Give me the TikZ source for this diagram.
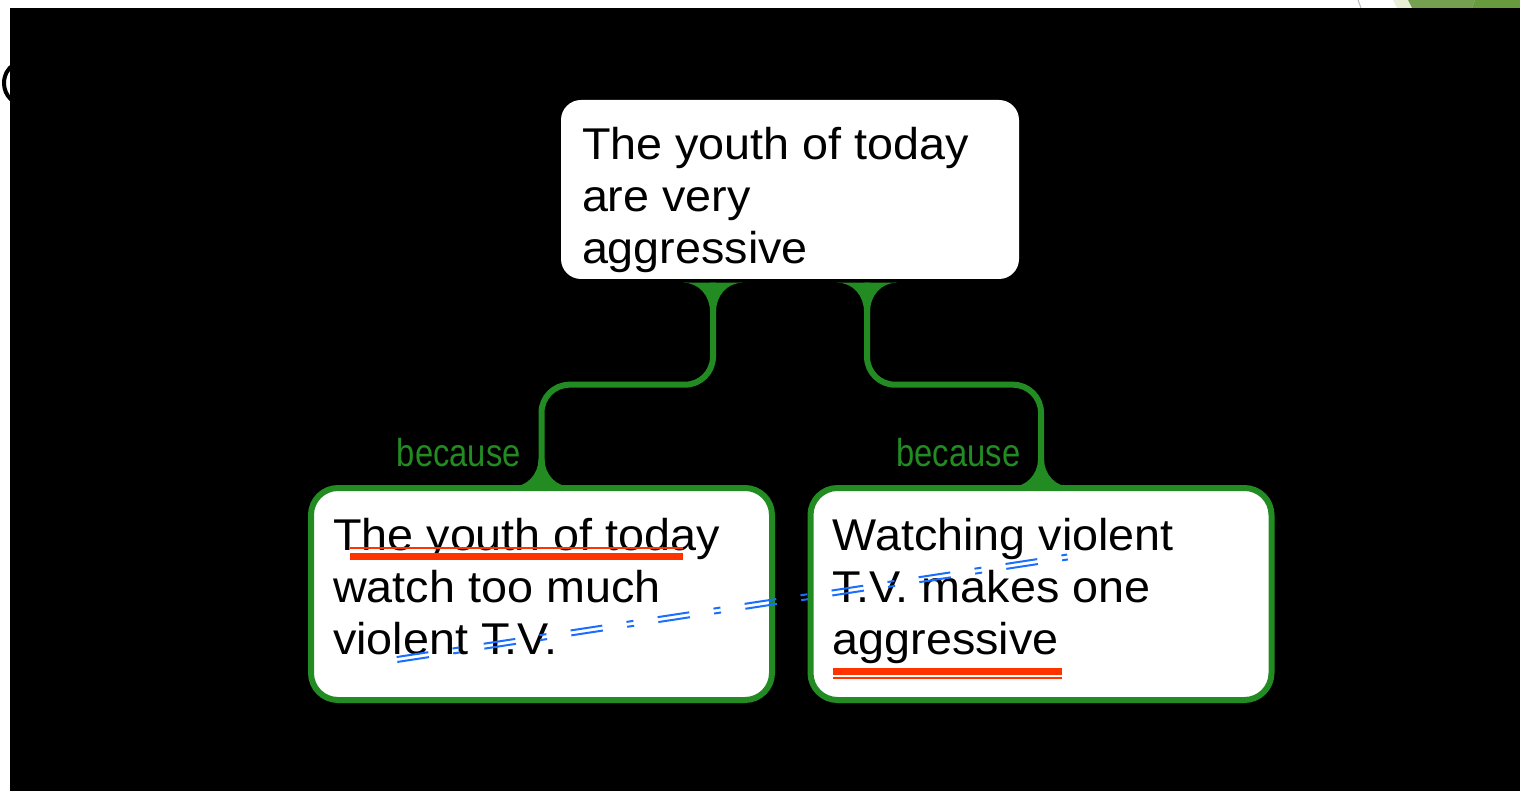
\documentclass[tikz,border=0pt]{standalone}
\usepackage{fontspec}
\usetikzlibrary{calc}
\newfontfamily\boxfont[FakeStretch=1.05]{Liberation Sans}
\newfontfamily\becfont[FakeStretch=0.84]{Liberation Sans}
\definecolor{argueGreen}{RGB}{34,139,34}
\definecolor{markRed}{RGB}{255,51,0}
\definecolor{linkBlue}{RGB}{25,110,255}
\definecolor{leafLight}{RGB}{232,240,214}
\definecolor{leafMid}{RGB}{116,160,80}
\definecolor{leafDark}{RGB}{104,154,62}
\begin{document}
\begin{tikzpicture}[x=1pt,y=-1pt,
  claim/.style={fill=white, rounded corners=20pt, inner sep=0pt,
    minimum width=458pt, minimum height=179pt},
  reason/.style={draw=argueGreen, line width=6pt, fill=white, rounded corners=27pt,
    inner sep=0pt, minimum width=461pt, minimum height=212pt},
  textline/.style={anchor=base west, inner sep=0pt, text=black,
    font=\boxfont\fontsize{44.5}{52}\selectfont},
  because/.style={anchor=base east, inner sep=0pt, text=argueGreen,
    font=\becfont\fontsize{39}{42}\selectfont},
  link/.style={draw=argueGreen, line width=6pt, rounded corners=28pt},
  flaretop/.pic={\fill[argueGreen] (-30,0) .. controls (-14,0) and (-3,13) .. (-3,29)
      -- (3,29) .. controls (3,13) and (14,0) .. (30,0) -- cycle;},
  flarebottom/.pic={\fill[argueGreen] (-31,0) .. controls (-14,0) and (-3,-13) .. (-3,-28)
      -- (3,-28) .. controls (3,-13) and (14,0) .. (31,0) -- cycle;},
  underthin/.style={draw=markRed, line width=2pt},
  underthick/.style={draw=markRed, line width=7pt},
  bluedash/.style={draw=linkBlue, line width=2pt,
    dash pattern=on 32pt off 24.5pt on 7pt off 24.5pt}
]
\useasboundingbox (0,0) rectangle (1520,791);
\fill[white] (0,0) rectangle (1520,791);

% slide edge remnants
\draw[black, line width=4pt] ([shift={(120:19 and 21)}]23,83)
  arc[start angle=120, end angle=240, x radius=19, y radius=21];
\draw[gray!55, line width=1pt] (1358,0) -- (1361,8);
\fill[leafLight] (1393,0) -- (1408,0) -- (1412,8) -- (1397,8) -- cycle;
\fill[leafMid] (1408,0) -- (1475,0) -- (1472,8) -- (1412,8) -- cycle;
\fill[leafDark] (1475,0) -- (1520,0) -- (1520,8) -- (1472,8) -- cycle;

% panel
\fill[black] (10,8) rectangle (1520,791);

% claim and reasons
\node[claim] (top) at (790,189.5) {};
\node[reason] (left) at (541.5,594) {};
\node[reason] (right) at (1041,594) {};

% connectors
\draw[link] ([shift={(-77,3.5)}]top.south) -- ++(0,102) -| (left.north);
\draw[link] ([shift={(77,3.5)}]top.south) -- ++(0,102) -| (right.north);
\pic at ([shift={(-77,3.5)}]top.south) {flaretop};
\pic at ([shift={(77,3.5)}]top.south) {flaretop};
\pic at ([shift={(0,2)}]left.north) {flarebottom};
\pic at ([shift={(0,2)}]right.north) {flarebottom};

\node[because] (becL) at ([shift={(-20.5,-18.5)}]left.north) {because};
\node[because] (becR) at ([shift={(-20.5,-18.5)}]right.north) {because};

% texts
\node[textline] (t1) at ([shift={(21,60)}]top.north west) {The youth of today};
\node[textline] (t2) at ([shift={(21,112)}]top.north west) {are very};
\node[textline] (t3) at ([shift={(21,164)}]top.north west) {aggressive};

\node[textline] (l1) at ([shift={(25,65)}]left.north west) {The youth of today};
\node[textline] (l2) at ([shift={(25,117)}]left.north west) {watch too much};
\node[textline] (l3) at ([shift={(25,169)}]left.north west) {violent T.V.};

\node[textline] (r1) at ([shift={(25,65)}]right.north west) {Watching violent};
\node[textline] (r2) at ([shift={(25,117)}]right.north west) {T.V. makes one};
\node[textline] (r3) at ([shift={(25,169)}]right.north west) {aggressive};

% underlines
\draw[underthin] ([shift={(17,-2)}]l1.base west) -- ([shift={(350,-2)}]l1.base west);
\draw[underthick] ([shift={(17,6)}]l1.base west) -- ([shift={(350,6)}]l1.base west);
\draw[underthick] ([shift={(0,17.5)}]r3.base west) -- ([shift={(229,17.5)}]r3.base west);
\draw[underthin] ([shift={(0,24)}]r3.base west) -- ([shift={(229,24)}]r3.base west);

% double dash-dot link between the T.V. mentions
\coordinate (tvL) at ([shift={(64,5.5)}]l3.base west);
\coordinate (tvR) at ([shift={(235,7)}]r1.base west);
\draw[bluedash] ($(tvL)+(0.37,2.45)$) -- ($(tvR)+(0.37,2.45)$);
\draw[bluedash] ($(tvL)-(0.37,2.45)$) -- ($(tvR)-(0.37,2.45)$);
\end{tikzpicture}
\end{document}
